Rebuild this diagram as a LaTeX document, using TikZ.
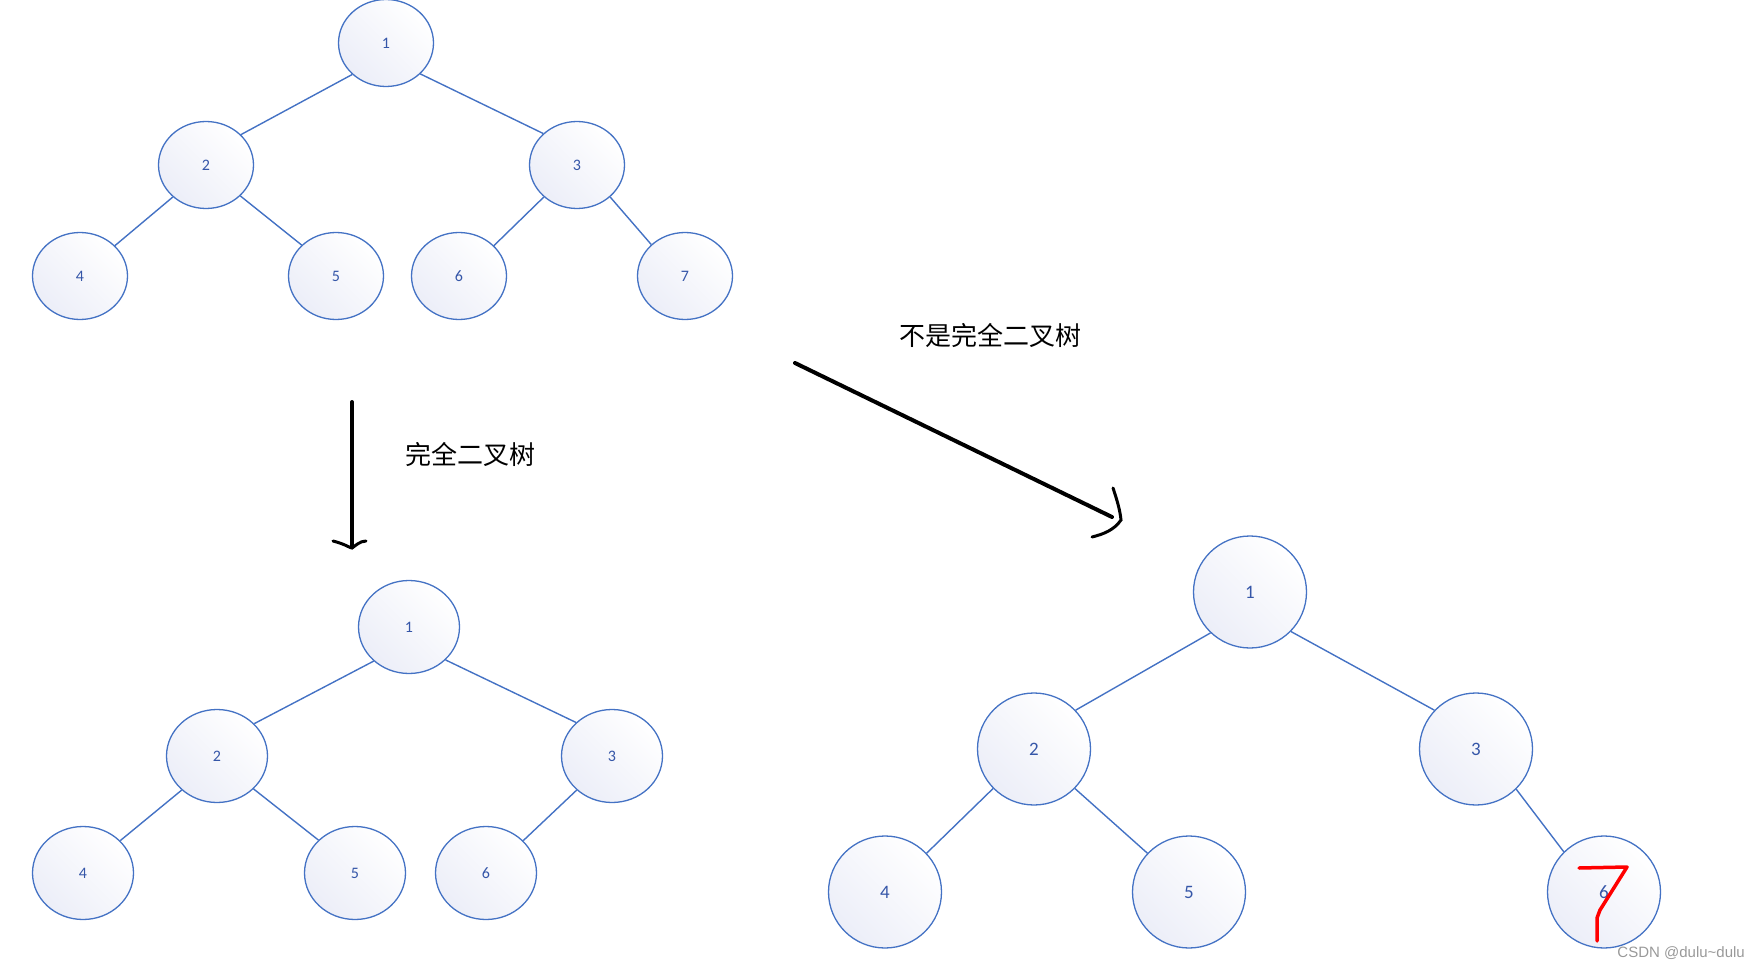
\documentclass[tikz,border=0pt]{standalone}
\usepackage{fontspec}
\setmainfont{Carlito}
\newfontfamily\cjk{Noto Sans CJK SC}
\usetikzlibrary{shapes.geometric}
\definecolor{treeblue}{HTML}{4472C4}
\definecolor{numblue}{HTML}{3556A8}
\definecolor{lav}{HTML}{ECEEF8}
\tikzset{
  tn/.style={ellipse, draw=treeblue, line width=1.3pt, top color=white, bottom color=lav, shading angle=-45,
    inner sep=0pt, text=numblue},
  tsmall/.style={tn, minimum width=95pt, minimum height=87pt, font=\fontsize{16}{16}\selectfont},
  tmid/.style={tn, minimum width=101pt, minimum height=93pt, font=\fontsize{16}{16}\selectfont},
  tbig/.style={tn, minimum width=113pt, minimum height=112pt, font=\fontsize{19}{19}\selectfont},
  edge/.style={draw=treeblue, line width=1.4pt},
  pen/.style={line width=4pt, black, line cap=round, line join=round},
  lbl/.style={font=\cjk\fontsize{26}{26}\selectfont, inner sep=0pt},
}
\begin{document}
\begin{tikzpicture}[x=1pt,y=-1pt]
\useasboundingbox (0,0) rectangle (1761,968);
% top tree
\node[tsmall] (a1) at (386,43) {1};
\node[tsmall] (a2) at (206,165) {2};
\node[tsmall] (a3) at (577,165) {3};
\node[tsmall] (a4) at (80,276) {4};
\node[tsmall] (a5) at (336,276) {5};
\node[tsmall] (a6) at (459,276) {6};
\node[tsmall] (a7) at (685,276) {7};
\draw[edge] (a1.223) -- (a2.41); \draw[edge] (a1.318) -- (a3.137);
\draw[edge] (a2.224) -- (a4.41); \draw[edge] (a2.318) -- (a5.138);
\draw[edge] (a3.224) -- (a6.41); \draw[edge] (a3.316) -- (a7.137);
% bottom-left tree
\node[tmid] (b1) at (409,627) {1};
\node[tmid] (b2) at (217,756) {2};
\node[tmid] (b3) at (612,756) {3};
\node[tmid] (b4) at (83,873) {4};
\node[tmid] (b5) at (355,873) {5};
\node[tmid] (b6) at (486,873) {6};
\draw[edge] (b1.224) -- (b2.41); \draw[edge] (b1.318) -- (b3.137);
\draw[edge] (b2.224) -- (b4.41); \draw[edge] (b2.318) -- (b5.138);
\draw[edge] (b3.224) -- (b6.41);
% bottom-right tree
\node[tbig] (c1) at (1250,592) {1};
\node[tbig] (c2) at (1034,749) {2};
\node[tbig] (c3) at (1476,749) {3};
\node[tbig] (c4) at (885,892) {4};
\node[tbig] (c5) at (1189,892) {5};
\node[tbig] (c6) at (1604,892) {6};
\draw[edge] (c1.226) -- (c2.43); \draw[edge] (c1.316) -- (c3.137);
\draw[edge] (c2.224) -- (c4.43); \draw[edge] (c2.316) -- (c5.137);
\draw[edge] (c3.315) -- (c6.135);
% labels
\node[lbl] (t1) at (470,454) {完全二叉树};
\node[lbl] (t2) at (990,335) {不是完全二叉树};
% hand-drawn arrows
\coordinate (p1s) at (352,402);
\coordinate (p1e) at (352,547);
\draw[pen] (p1s) -- (p1e);
\draw[line width=3pt, line cap=round] (333,541) .. controls (345,544) and (350,548) .. (352,548) .. controls (355,546) and (360,541) .. (366,541);
\coordinate (p2s) at (795,363);
\coordinate (p2e) at (1112,517);
\draw[pen] (p2s) -- (p2e);
\draw[line width=3pt, line cap=round] (1113,488) .. controls (1117,500) and (1120,510) .. (1121,520) .. controls (1114,530) and (1104,534) .. (1092,537);
% red 7
\draw[red, line width=3.5pt, line cap=round, line join=round] (1579,868) -- (1627,867) -- (1600,910) -- (1597,918) -- (1597,941);
% watermark
\node[font=\fontsize{15}{15}\selectfont, text=gray!80, anchor=east, inner sep=0pt] (wm) at (1745,953) {\fontspec{Liberation Sans}CSDN @dulu\textasciitilde dulu};
\end{tikzpicture}
\end{document}
